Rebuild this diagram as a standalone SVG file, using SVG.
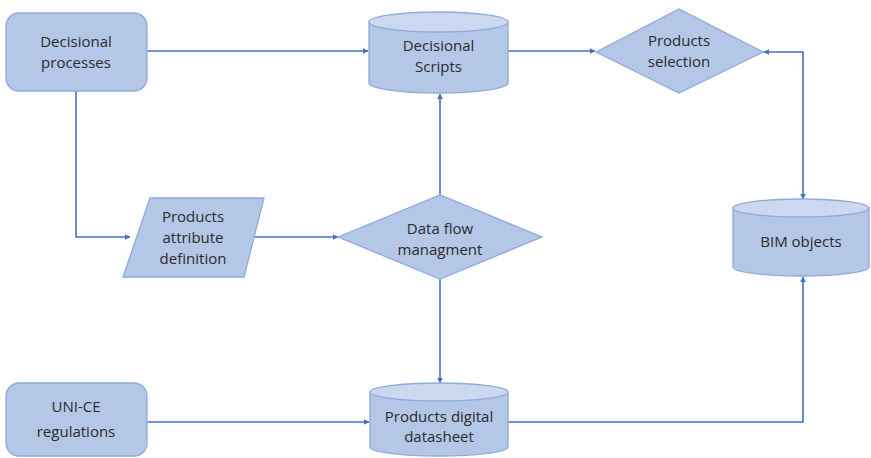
<svg xmlns="http://www.w3.org/2000/svg" width="871" height="458" viewBox="0 0 871 458">
<style>
.n{fill:#b4c7e7;stroke:#8faadc;stroke-width:1.3}
.top{fill:#cbd8ef;stroke:#8faadc;stroke-width:1.3}
.t{font-family:"Open Sans","Liberation Sans",sans-serif;font-size:15px;fill:#2b2b2b;text-anchor:middle}
.c{fill:none;stroke:#4472c4;stroke-width:1.6}
</style>
<defs>
<marker id="a" viewBox="0 0 10 10" refX="9" refY="5" markerWidth="6" markerHeight="6" markerUnits="userSpaceOnUse" orient="auto-start-reverse">
<path d="M0,0 L10,5 L0,10 Z" fill="#4472c4"/>
</marker>
</defs>
<rect width="871" height="458" fill="#ffffff"/>
<g id="connectors">
<path class="c" d="M147,51 H368" marker-end="url(#a)"/>
<path class="c" d="M508,51 H595" marker-end="url(#a)"/>
<path class="c" d="M764,52 H803 V199" marker-start="url(#a)" marker-end="url(#a)"/>
<path class="c" d="M76,91 V237 H130" marker-end="url(#a)"/>
<path class="c" d="M253,237 H338" marker-end="url(#a)"/>
<path class="c" d="M440,195 V94" marker-end="url(#a)"/>
<path class="c" d="M440,279 V383" marker-end="url(#a)"/>
<path class="c" d="M147,422 H369" marker-end="url(#a)"/>
<path class="c" d="M508,422 H803 V277" marker-end="url(#a)"/>
</g>
<g id="decisional-processes">
<rect class="n" x="6" y="13" width="141" height="78" rx="13"/>
<text class="t" x="76" y="47">Decisional</text>
<text class="t" x="76" y="68">processes</text>
</g>
<g id="decisional-scripts">
<path class="n" d="M369,22 V83 A69.5,10 0 0 0 508,83 V22 Z"/>
<ellipse class="top" cx="438.5" cy="22" rx="69.5" ry="10"/>
<text class="t" x="438.5" y="51">Decisional</text>
<text class="t" x="438.5" y="72">Scripts</text>
</g>
<g id="products-selection">
<polygon class="n" points="596,52 679,9 763,52 679,93"/>
<text class="t" x="679" y="46">Products</text>
<text class="t" x="679" y="67">selection</text>
</g>
<g id="products-attribute-definition">
<polygon class="n" points="150,198 264,198 244,277 123,277"/>
<text class="t" x="193" y="222">Products</text>
<text class="t" x="193" y="243">attribute</text>
<text class="t" x="193" y="264">definition</text>
</g>
<g id="data-flow-managment">
<polygon class="n" points="338,237 440,195 542,237 440,279"/>
<text class="t" x="440" y="234">Data flow</text>
<text class="t" x="440" y="255">managment</text>
</g>
<g id="bim-objects">
<path class="n" d="M733,208 V267 A68,9 0 0 0 869,267 V208 Z"/>
<ellipse class="top" cx="801" cy="208" rx="68" ry="9"/>
<text class="t" x="801" y="247">BIM objects</text>
</g>
<g id="uni-ce-regulations">
<rect class="n" x="6" y="383" width="141" height="73" rx="13"/>
<text class="t" x="76" y="412">UNI-CE</text>
<text class="t" x="76" y="437">regulations</text>
</g>
<g id="products-digital-datasheet">
<path class="n" d="M370,392 V447 A69,9 0 0 0 508,447 V392 Z"/>
<ellipse class="top" cx="439" cy="392" rx="69" ry="9"/>
<text class="t" x="439" y="422">Products digital</text>
<text class="t" x="439" y="442">datasheet</text>
</g>
</svg>
